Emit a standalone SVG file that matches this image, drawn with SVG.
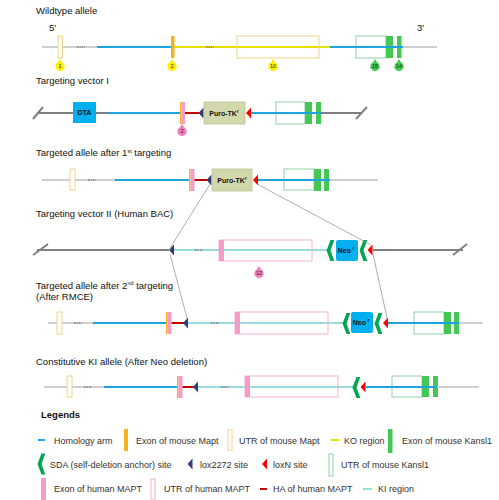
<svg xmlns="http://www.w3.org/2000/svg" width="499" height="500" viewBox="0 0 499 500">
<style>
.t{font-family:"Liberation Sans",Arial,sans-serif;font-size:9.5px;fill:#111}
.lg{font-family:"Liberation Sans",Arial,sans-serif;font-size:9px;fill:#333}
.bx{font-family:"Liberation Sans",Arial,sans-serif;font-size:7px;font-weight:bold;fill:#111;text-anchor:middle}
.pn{font-family:"Liberation Sans",Arial,sans-serif;font-size:5.5px;fill:#222;text-anchor:middle}
.gl{stroke:#cfcfcf;stroke-width:2;fill:none}
.dg{stroke:#808080;stroke-width:2;fill:none}
.ha{stroke:#1fa3dc;stroke-width:2;fill:none}
.ko{stroke:#e6e000;stroke-width:2;fill:none}
.ki{stroke:#9adbe0;stroke-width:2;fill:none}
.hr{stroke:#c00000;stroke-width:2;fill:none}
.dots{stroke:#7a7a7a;stroke-width:1.3;stroke-dasharray:1.3 1.2;fill:none}
.uy{fill:#fff;stroke:#f0d48a;stroke-width:1}
.uyn{fill:none;stroke:#f0d48a;stroke-width:1}
.ug{fill:none;stroke:#8fd3a8;stroke-width:1}
.ugw{fill:#fff;stroke:#8fd3a8;stroke-width:1}
.up{fill:none;stroke:#f0b3cf;stroke-width:1}
.upw{fill:#fff;stroke:#f0b3cf;stroke-width:1}
.eg{fill:#45c853}
.ep{fill:#f79bc9}
.eo{fill:#f5b21a}
.lb{fill:#2e3f78}
.lr{fill:#ff0000}
.sda{fill:#00a651}
.blue{fill:#00b0f0}
.puro{fill:#d2d8ac;stroke:#bcc494;stroke-width:0.8}
.cn{stroke:#8c8c8c;stroke-width:0.7;fill:none}
</style>
<defs>
<path id="pin" d="M-2,-3.8 L0,-7 L2,-3.8 A4.7,4.7 0 1 1 -2,-3.8 Z"/>
<path id="sda" d="M4,-10.5 L0,0 L4,10.5 L7.8,10.5 L4,0 L7.8,-10.5 Z"/>
<path id="lox" d="M0,0 L5,-5.5 L5,5.5 Z"/>
</defs>
<rect width="499" height="500" fill="#fff"/>

<g id="row1">
<text class="t" x="36" y="14">Wildtype allele</text>
<text class="t" x="49" y="31">5'</text>
<text class="t" x="417" y="31">3'</text>
<line class="gl" x1="42" y1="47" x2="97" y2="47"/>
<rect class="uy" x="58" y="36" width="4.5" height="22"/>
<line class="dots" x1="77" y1="47" x2="85" y2="47"/>
<line class="ha" x1="97" y1="47" x2="172" y2="47"/>
<line class="ko" x1="174" y1="47" x2="330" y2="47"/>
<rect class="eo" x="171" y="36" width="3.5" height="22"/>
<line class="dots" x1="206" y1="47" x2="214" y2="47"/>
<rect class="uyn" x="237" y="36" width="82" height="22"/>
<rect class="ug" x="356" y="36" width="30" height="22"/>
<rect class="eg" x="386" y="36" width="7" height="22"/>
<rect class="eg" x="397" y="36" width="4.5" height="22"/>
<line class="ha" x1="330" y1="47" x2="403" y2="47"/>
<line class="gl" x1="403" y1="47" x2="437" y2="47"/>
<use href="#pin" x="60" y="66" fill="#ffef00"/><text class="pn" x="60" y="68">1</text>
<use href="#pin" x="172" y="66" fill="#ffef00"/><text class="pn" x="172" y="68">2</text>
<use href="#pin" x="273" y="66" fill="#ffef00"/><text class="pn" x="273" y="68">10</text>
<use href="#pin" x="375" y="66" fill="#45c853"/><text class="pn" x="375" y="68">15</text>
<use href="#pin" x="399" y="66" fill="#45c853"/><text class="pn" x="399" y="68">14</text>
</g>

<g id="row2">
<text class="t" x="36" y="84">Targeting vector I</text>
<line class="dg" x1="33" y1="119" x2="43" y2="107" stroke-width="1.5"/>
<line class="dg" x1="37" y1="113" x2="73" y2="113"/>
<rect class="blue" x="73" y="102" width="23" height="21"/>
<text class="bx" x="84.5" y="115">DTA</text>
<line class="dg" x1="96" y1="113" x2="107" y2="113"/>
<line class="ha" x1="107" y1="113" x2="181" y2="113"/>
<rect class="eo" x="180" y="102" width="1.5" height="22"/>
<rect class="ep" x="181.5" y="102" width="3.5" height="22"/>
<line class="hr" x1="185" y1="113" x2="199" y2="113"/>
<use href="#lox" x="198.5" y="113" class="lb"/>
<rect class="puro" x="204" y="102" width="41" height="22"/>
<text class="bx" x="224" y="115.5">Puro-TK<tspan font-size="4.5" dy="-3">r</tspan></text>
<use href="#lox" x="246" y="113" class="lr"/>
<rect class="ug" x="276" y="102" width="29" height="22"/>
<rect class="eg" x="305" y="102" width="7" height="22"/>
<rect class="eg" x="316" y="102" width="5" height="22"/>
<line class="ha" x1="251" y1="113" x2="321" y2="113"/>
<line class="dg" x1="321" y1="113" x2="362" y2="113"/>
<line class="dg" x1="356" y1="119" x2="367" y2="107" stroke-width="1.5"/>
<use href="#pin" x="182" y="131" fill="#f07ebc"/><text class="pn" x="182" y="133">2</text>
</g>

<g id="row3">
<text class="t" x="36" y="156">Targeted allele after 1<tspan font-size="5.5" dy="-3.5">st</tspan><tspan dy="3.5"> targeting</tspan></text>
<line class="gl" x1="42" y1="180" x2="115" y2="180"/>
<rect class="uy" x="70" y="169" width="5" height="21"/>
<line class="dots" x1="88" y1="180" x2="96" y2="180"/>
<line class="ha" x1="115" y1="180" x2="190" y2="180"/>
<rect class="eo" x="189" y="169" width="1.5" height="22"/>
<rect class="ep" x="190.5" y="169" width="4" height="22"/>
<line class="hr" x1="194.5" y1="180" x2="207" y2="180"/>
<use href="#lox" x="206.5" y="180" class="lb"/>
<rect class="puro" x="212" y="169" width="40" height="22"/>
<text class="bx" x="232" y="182.5">Puro-TK<tspan font-size="4.5" dy="-3">r</tspan></text>
<use href="#lox" x="253" y="180" class="lr"/>
<rect class="ug" x="284" y="169" width="30" height="21"/>
<rect class="eg" x="314" y="169" width="7" height="22"/>
<rect class="eg" x="324" y="169" width="5" height="22"/>
<line class="ha" x1="258" y1="180" x2="330" y2="180"/>
<line class="gl" x1="330" y1="180" x2="378" y2="180"/>
</g>

<g id="row4">
<text class="t" x="36" y="217">Targeting vector II (Human BAC)</text>
<line class="dg" x1="33" y1="255" x2="48" y2="244" stroke-width="1.5"/>
<line class="dg" x1="37" y1="250" x2="169" y2="250"/>
<use href="#lox" x="169" y="250" class="lb"/>
<line class="ki" x1="174" y1="250" x2="328" y2="250"/>
<line class="dots" x1="195" y1="250" x2="203" y2="250"/>
<rect class="up" x="219" y="240" width="93" height="21"/>
<rect class="ep" x="219" y="240" width="5" height="21"/>
<use href="#sda" x="326.5" y="250.5" class="sda"/>
<rect class="blue" x="336" y="240" width="22" height="21" rx="2"/>
<text class="bx" x="346" y="253">Neo<tspan font-size="4.5" dx="1.5" dy="-3">r</tspan></text>
<use href="#sda" x="359.5" y="250.5" class="sda"/>
<use href="#lox" x="367.5" y="250" class="lr"/>
<line class="dg" x1="373" y1="250" x2="463" y2="250"/>
<line class="dg" x1="453" y1="255" x2="467" y2="244" stroke-width="1.5"/>
<use href="#pin" x="259" y="273" fill="#f07ebc"/><text class="pn" x="259" y="275">12</text>
</g>

<g id="row5">
<text class="t" x="36" y="288.5">Targeted allele after 2<tspan font-size="5.5" dy="-3.5">nd</tspan><tspan dy="3.5"> targeting</tspan></text>
<text class="t" x="36" y="299.5">(After RMCE)</text>
<line class="gl" x1="48" y1="323" x2="93" y2="323"/>
<rect class="uy" x="57" y="312" width="5" height="22"/>
<line class="dots" x1="74" y1="323" x2="82" y2="323"/>
<line class="ha" x1="93" y1="323" x2="167" y2="323"/>
<rect class="eo" x="166" y="312" width="1.5" height="22"/>
<rect class="ep" x="167.5" y="312" width="4" height="22"/>
<line class="hr" x1="171.5" y1="323" x2="184" y2="323"/>
<use href="#lox" x="183" y="323" class="lb"/>
<line class="ki" x1="188" y1="323" x2="344" y2="323"/>
<line class="dots" x1="211" y1="323" x2="219" y2="323"/>
<rect class="up" x="235" y="312" width="93" height="22"/>
<rect class="ep" x="235" y="312" width="5" height="22"/>
<use href="#sda" x="342.5" y="323.5" class="sda"/>
<rect class="blue" x="351" y="312" width="22" height="21" rx="2"/>
<text class="bx" x="361" y="325">Neo<tspan font-size="4.5" dx="1.5" dy="-3">r</tspan></text>
<use href="#sda" x="374.5" y="323.5" class="sda"/>
<use href="#lox" x="383" y="323" class="lr"/>
<rect class="ug" x="414" y="312" width="30" height="22"/>
<rect class="eg" x="444" y="312" width="7" height="22"/>
<rect class="eg" x="454" y="312" width="5" height="22"/>
<line class="ha" x1="388" y1="323" x2="459" y2="323"/>
<line class="gl" x1="459" y1="323" x2="483" y2="323"/>
</g>

<g id="row6">
<text class="t" x="36" y="365">Constitutive KI allele (After Neo deletion)</text>
<line class="gl" x1="44" y1="387" x2="104" y2="387"/>
<rect class="uy" x="67" y="376" width="5" height="21"/>
<line class="dots" x1="84" y1="387" x2="92" y2="387"/>
<line class="ha" x1="104" y1="387" x2="178" y2="387"/>
<rect class="eo" x="177" y="376" width="1.5" height="22"/>
<rect class="ep" x="178.5" y="376" width="4" height="22"/>
<line class="hr" x1="182.5" y1="387" x2="194" y2="387"/>
<use href="#lox" x="193" y="387" class="lb"/>
<line class="ki" x1="198" y1="387" x2="353" y2="387"/>
<line class="dots" x1="221" y1="387" x2="229" y2="387"/>
<rect class="up" x="245" y="376" width="93" height="21"/>
<rect class="ep" x="245" y="376" width="5" height="21"/>
<use href="#sda" x="352.5" y="387.5" class="sda"/>
<use href="#lox" x="360.5" y="387" class="lr"/>
<rect class="ug" x="392" y="376" width="30" height="21"/>
<rect class="eg" x="422" y="376" width="7" height="21"/>
<rect class="eg" x="433" y="376" width="5" height="21"/>
<line class="ha" x1="366" y1="387" x2="437" y2="387"/>
<line class="gl" x1="437" y1="387" x2="479" y2="387"/>
</g>

<g id="connectors">
<line class="cn" x1="210" y1="184" x2="169.5" y2="249"/>
<line class="cn" x1="257" y1="184" x2="371" y2="245"/>
<line class="cn" x1="170" y1="254" x2="187" y2="318"/>
<line class="cn" x1="373" y1="254" x2="387" y2="318"/>
</g>

<g id="legend">
<text class="t" x="41" y="417.5" font-weight="bold" font-size="9">Legends</text>
<line class="ha" x1="38" y1="440" x2="45" y2="440"/>
<text class="lg" x="54" y="443.5">Homology arm</text>
<rect class="eo" x="124" y="429" width="4" height="22"/>
<text class="lg" x="136" y="443.5">Exon of mouse Mapt</text>
<rect class="uy" x="228" y="430" width="4" height="20"/>
<text class="lg" x="239" y="443.5">UTR of mouse Mapt</text>
<line class="ko" x1="331" y1="440" x2="339" y2="440"/>
<text class="lg" x="344" y="443.5">KO region</text>
<rect class="eg" x="388" y="429" width="4.5" height="24"/>
<text class="lg" x="402" y="443.5">Exon of mouse Kansl1</text>

<use href="#sda" x="37.5" y="464" class="sda"/>
<text class="lg" x="50" y="467.5">SDA (self-deletion anchor) site</text>
<use href="#lox" x="187.5" y="464" class="lb"/>
<text class="lg" x="200" y="467.5">lox2272 site</text>
<use href="#lox" x="262" y="464" class="lr"/>
<text class="lg" x="273" y="467.5">loxN site</text>
<rect class="ugw" x="329" y="454" width="4" height="22"/>
<text class="lg" x="341" y="467.5">UTR of mouse Kansl1</text>

<rect class="ep" x="41" y="478" width="5" height="22"/>
<text class="lg" x="54" y="492">Exon of human MAPT</text>
<rect class="upw" x="151" y="479" width="4" height="20"/>
<text class="lg" x="164" y="492">UTR of human MAPT</text>
<line class="hr" x1="260" y1="489" x2="267" y2="489"/>
<text class="lg" x="273" y="492">HA of human MAPT</text>
<line class="ki" x1="363" y1="489" x2="372" y2="489"/>
<text class="lg" x="378" y="492">KI region</text>
</g>
</svg>
